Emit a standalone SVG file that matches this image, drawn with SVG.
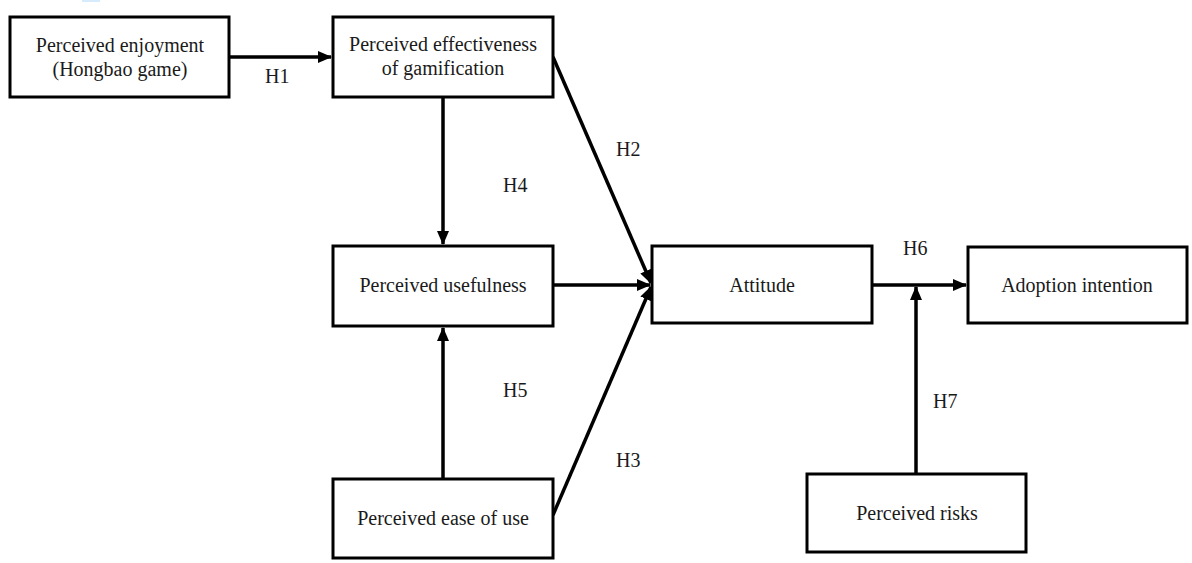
<svg xmlns="http://www.w3.org/2000/svg" width="1192" height="563" viewBox="0 0 1192 563">
<style>
.box{fill:#fff;stroke:#000;stroke-width:3}
.t{font-family:'Liberation Serif','DejaVu Serif',serif;font-size:20px;fill:#1a1a1a;text-anchor:middle}
.lbl{font-family:'Liberation Serif','DejaVu Serif',serif;font-size:20px;fill:#1a1a1a}
.c{stroke:#000;stroke-width:3.5;fill:none}
</style>
<defs>
<marker id="ah" markerUnits="userSpaceOnUse" markerWidth="14" markerHeight="12" refX="13" refY="6" orient="auto">
<path d="M0,0 L14,6 L0,12 Z" fill="#000"/>
</marker>
</defs>
<rect width="1192" height="563" fill="#fff"/>
<rect x="82" y="0" width="18" height="2" fill="#d6ebfb"/>
<g id="connectors">
<line class="c" x1="229" y1="57" x2="331" y2="57" marker-end="url(#ah)"/>
<line class="c" x1="443" y1="97" x2="443" y2="244" marker-end="url(#ah)"/>
<line class="c" x1="553" y1="57" x2="651" y2="283" marker-end="url(#ah)"/>
<line class="c" x1="553" y1="285" x2="650" y2="285" marker-end="url(#ah)"/>
<line class="c" x1="553" y1="515" x2="651" y2="287" marker-end="url(#ah)"/>
<line class="c" x1="443" y1="479" x2="443" y2="328" marker-end="url(#ah)"/>
<line class="c" x1="872" y1="285" x2="966" y2="285" marker-end="url(#ah)"/>
<line class="c" x1="916" y1="474" x2="916" y2="287" marker-end="url(#ah)"/>
<text class="lbl" font-family="Liberation Serif" x="265" y="83">H1</text>
<text class="lbl" font-family="Liberation Serif" x="616" y="156">H2</text>
<text class="lbl" font-family="Liberation Serif" x="616" y="467">H3</text>
<text class="lbl" font-family="Liberation Serif" x="503" y="192">H4</text>
<text class="lbl" font-family="Liberation Serif" x="503" y="397">H5</text>
<text class="lbl" font-family="Liberation Serif" x="903" y="255">H6</text>
<text class="lbl" font-family="Liberation Serif" x="933" y="408">H7</text>
</g>
<g id="enjoyment">
<rect class="box" x="10" y="17" width="219" height="80"/>
<text class="t" x="120" y="52">Perceived enjoyment</text>
<text class="t" x="120" y="76">(Hongbao game)</text>
</g>
<g id="effectiveness">
<rect class="box" x="333" y="17" width="220" height="80"/>
<text class="t" x="443" y="51">Perceived effectiveness</text>
<text class="t" x="443" y="75">of gamification</text>
</g>
<g id="usefulness">
<rect class="box" x="333" y="246" width="220" height="80"/>
<text class="t" x="443" y="292">Perceived usefulness</text>
</g>
<g id="ease">
<rect class="box" x="333" y="479" width="220" height="79"/>
<text class="t" x="443" y="525">Perceived ease of use</text>
</g>
<g id="attitude">
<rect class="box" x="652" y="246" width="220" height="77"/>
<text class="t" x="762" y="292">Attitude</text>
</g>
<g id="adoption">
<rect class="box" x="968" y="247" width="219" height="76"/>
<text class="t" x="1077" y="292">Adoption intention</text>
</g>
<g id="risks">
<rect class="box" x="807" y="474" width="219" height="78"/>
<text class="t" x="917" y="520">Perceived risks</text>
</g>
</svg>
